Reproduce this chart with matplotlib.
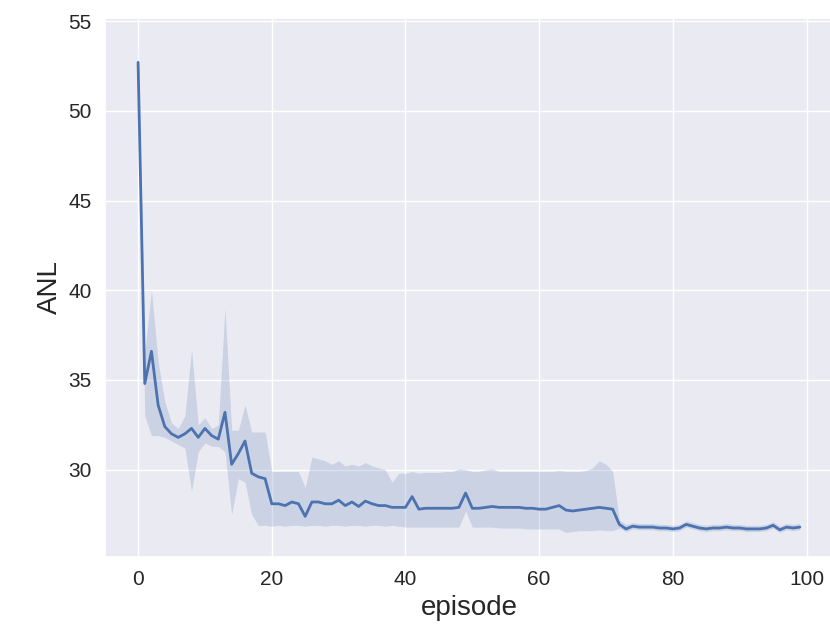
import numpy as np
import seaborn as sns
from matplotlib import pyplot as plt

# values
episode = np.arange(100)

anl_mean = [52.7, 34.8, 36.6, 33.6, 32.4, 32.0, 31.8, 32.0, 32.3, 31.8,
            32.3, 31.9, 31.7, 33.2, 30.3, 30.9, 31.6, 29.8, 29.6, 29.5,
            28.1, 28.1, 28.0, 28.2, 28.1, 27.4, 28.2, 28.2, 28.1, 28.1,
            28.3, 28.0, 28.2, 27.95, 28.25, 28.1, 28.0, 28.0, 27.9, 27.9,
            27.9, 28.5, 27.8, 27.85, 27.85, 27.85, 27.85, 27.85, 27.9, 28.7,
            27.85, 27.85, 27.9, 27.95, 27.9, 27.9, 27.9, 27.9, 27.85, 27.85,
            27.8, 27.8, 27.9, 28.0, 27.75, 27.7, 27.75, 27.8, 27.85, 27.9,
            27.85, 27.8, 26.95, 26.7, 26.85, 26.8, 26.8, 26.8, 26.75, 26.75,
            26.7, 26.75, 26.95, 26.85, 26.75, 26.7, 26.75, 26.75, 26.8, 26.75,
            26.75, 26.7, 26.7, 26.7, 26.75, 26.9, 26.65, 26.8, 26.75, 26.8]

anl_upper = [53.8, 36.5, 40.0, 36.0, 33.8, 32.6, 32.3, 33.0, 36.7, 32.5,
             32.9, 32.3, 32.5, 39.0, 32.2, 32.2, 33.6, 32.1, 32.1, 32.1,
             29.9, 29.9, 29.9, 29.9, 29.9, 29.0, 30.7, 30.6, 30.5, 30.3,
             30.5, 30.2, 30.3, 30.2, 30.4, 30.2, 30.1, 30.0, 29.3, 29.8,
             29.8, 29.9, 29.8, 29.85, 29.85, 29.85, 29.9, 29.9, 30.05, 30.0,
             29.9, 29.9, 30.0, 30.05, 29.9, 29.9, 29.9, 29.9, 29.9, 29.9,
             29.9, 29.9, 29.9, 29.95, 29.9, 29.9, 29.9, 29.95, 30.1, 30.5,
             30.3, 29.9, 27.2, 26.95, 27.05, 27.0, 27.0, 27.0, 26.95, 26.95,
             26.9, 26.95, 27.15, 27.05, 26.95, 26.9, 26.95, 26.95, 27.0, 26.95,
             26.95, 26.9, 26.9, 26.9, 26.95, 27.1, 26.85, 27.0, 26.95, 27.0]

anl_lower = [51.6, 33.0, 31.9, 31.9, 31.8, 31.6, 31.4, 31.2, 28.8, 31.0,
             31.5, 31.3, 31.3, 31.0, 27.5, 29.5, 29.3, 27.5, 26.9, 26.9,
             26.85, 26.9, 26.85, 26.9, 26.9, 26.85, 26.9, 26.9, 26.85, 26.9,
             26.9, 26.85, 26.9, 26.9, 26.85, 26.9, 26.9, 26.85, 26.9, 26.85,
             26.8, 26.8, 26.8, 26.8, 26.8, 26.8, 26.8, 26.8, 26.8, 27.7,
             26.8, 26.8, 26.8, 26.8, 26.75, 26.75, 26.75, 26.75, 26.7, 26.7,
             26.7, 26.7, 26.7, 26.7, 26.5, 26.55, 26.6, 26.6, 26.6, 26.65,
             26.6, 26.6, 26.75, 26.55, 26.7, 26.65, 26.65, 26.65, 26.6, 26.6,
             26.55, 26.6, 26.8, 26.7, 26.6, 26.55, 26.6, 26.6, 26.65, 26.6,
             26.6, 26.55, 26.55, 26.55, 26.6, 26.75, 26.5, 26.65, 26.6, 26.65]

sns.set_theme(style="darkgrid")
plt.rcParams['font.family'] = ['Liberation Sans', 'DejaVu Sans']

fig = plt.figure(figsize=(8.3, 6.4), dpi=100)
ax = fig.add_axes([0.1265, 0.1297, 0.877, 0.842])

color = sns.color_palette()[0]
ax.fill_between(episode, anl_lower, anl_upper, color=color, alpha=0.2, linewidth=0)
ax.plot(episode, anl_mean, color=color, linewidth=2.0)

ax.set_xlabel("episode", fontsize=20)
ax.set_ylabel("ANL", fontsize=20)
ax.tick_params(labelsize=15)
ax.set_yticks([30, 35, 40, 45, 50, 55])
ax.set_xticks([0, 20, 40, 60, 80, 100])
ax.set_xlim(-4.95, 103.95)

fig.savefig("out.png", dpi=100)
